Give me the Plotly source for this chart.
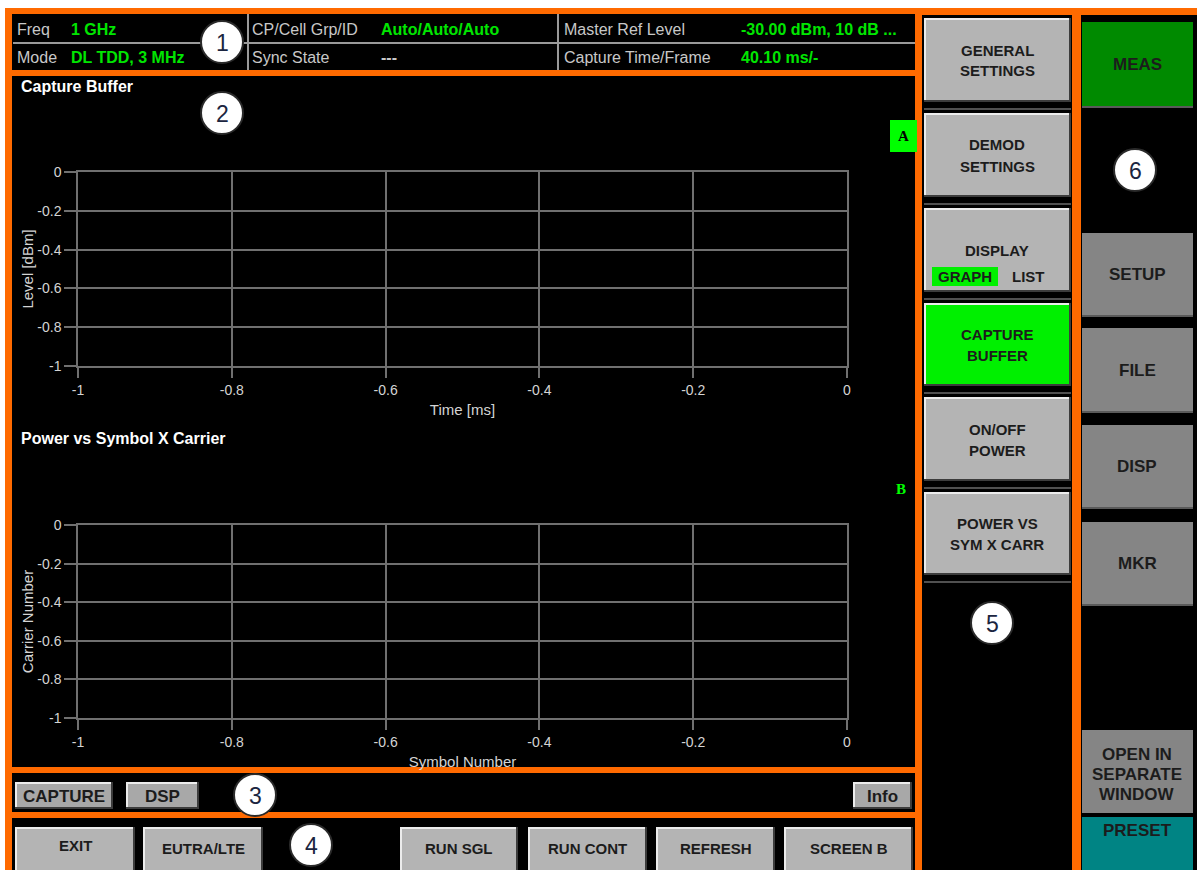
import plotly.graph_objects as go

W, H = 1197, 870

# ---------------- data ----------------
x_tick_values = [-1, -0.8, -0.6, -0.4, -0.2, 0]
x_tick_labels = ["-1", "-0.8", "-0.6", "-0.4", "-0.2", "0"]
y_tick_values = [0, -0.2, -0.4, -0.6, -0.8, -1]
y_tick_labels = ["0", "-0.2", "-0.4", "-0.6", "-0.8", "-1"]
capture_time = []      # Capture Buffer trace: empty (no capture yet)
capture_level = []
pvsc_symbol = []       # Power vs Symbol X Carrier: empty
pvsc_carrier = []

chart_titles = ["Capture Buffer", "Power vs Symbol X Carrier"]
x_titles = ["Time [ms]", "Symbol Number"]
y_titles = ["Level [dBm]", "Carrier Number"]

header_row1 = [("Freq", "1 GHz"), ("CP/Cell Grp/ID", "Auto/Auto/Auto"), ("Master Ref Level", "-30.00 dBm, 10 dB ...")]
header_row2 = [("Mode", "DL TDD, 3 MHz"), ("Sync State", "---"), ("Capture Time/Frame", "40.10 ms/-")]

side_buttons = [["GENERAL", "SETTINGS"], ["DEMOD", "SETTINGS"], ["DISPLAY"], ["CAPTURE", "BUFFER"],
                ["ON/OFF", "POWER"], ["POWER VS", "SYM X CARR"]]
hard_keys = ["MEAS", "SETUP", "FILE", "DISP", "MKR"]
status_buttons = ["CAPTURE", "DSP", "Info"]
bottom_buttons = ["EXIT", "EUTRA/LTE", "RUN SGL", "RUN CONT", "REFRESH", "SCREEN B"]

# ---------------- style ----------------
ORANGE = "#ff6a00"
GRID = "#707070"
TICKC = "#d4d4d4"
GREEN = "#00e600"
BTN = "#b4b4b4"
HK = "#858585"
TXT = "#1c1c1c"
FONT = "Liberation Sans, Arial, sans-serif"

shapes = []
annotations = []


def px(x):
    return x / W


def py(y):
    return 1 - y / H


def rect(x0, y0, x1, y1, color, layer="below"):
    shapes.append(dict(type="rect", xref="paper", yref="paper", x0=px(x0), x1=px(x1),
                       y0=py(y1), y1=py(y0), fillcolor=color, line=dict(width=0), layer=layer))


def line(x0, y0, x1, y1, color, width=2):
    shapes.append(dict(type="line", xref="paper", yref="paper", x0=px(x0), x1=px(x1),
                       y0=py(y0), y1=py(y1), line=dict(color=color, width=width), layer="below"))


def text(x, y, s, size, color, bold=False, anchor="center", family=FONT):
    annotations.append(dict(xref="paper", yref="paper", x=px(x), y=py(y),
                            text=("<b>%s</b>" % s) if bold else s, showarrow=False,
                            xanchor=anchor, yanchor="middle", borderpad=0,
                            font=dict(size=size, color=color, family=family)))


def button(x0, y0, x1, y1, face, light="#ececec", dark="#3c3c3c"):
    rect(x0, y0, x1, y1, dark)
    rect(x0, y0, x1 - 2, y1 - 2, light)
    rect(x0 + 2, y0 + 2, x1 - 2, y1 - 2, face)


def badge(cx, cy, label):
    shapes.append(dict(type="circle", xref="paper", yref="paper", x0=px(cx - 21), x1=px(cx + 21),
                       y0=py(cy + 21), y1=py(cy - 21), fillcolor="#ffffff",
                       line=dict(color="#2a2a2a", width=2), layer="above"))
    text(cx, cy + 1, label, 23, "#1b2540")


# ---------------- frame & panels ----------------
rect(5, 8, 1197, 870, ORANGE)
rect(12, 14, 915, 70, "#000000")     # header (1)
rect(12, 76, 915, 767, "#000000")    # graphs (2)
rect(12, 773, 915, 812, "#000000")   # status bar (3)
rect(12, 818, 915, 870, "#000000")   # soft keys (4)
rect(922, 15, 1072, 870, "#000000")  # side menu (5)
rect(1081, 15, 1197, 870, "#000000")  # hard keys (6)

# header grid
line(13, 43, 915, 43, "#9a9a9a", 2)
line(248, 14, 248, 70, "#9a9a9a", 2)
line(558, 14, 558, 70, "#9a9a9a", 2)
label_x = [16, 251, 563]
value_x = [70, 380, 740]
for i, (lab, val) in enumerate(header_row1):
    text(label_x[i], 30, lab, 16, "#c8c8c8", anchor="left")
    text(value_x[i], 30, val, 16, GREEN, bold=True, anchor="left")
for i, (lab, val) in enumerate(header_row2):
    text(label_x[i], 58, lab, 16, "#c8c8c8", anchor="left")
    text(value_x[i], 58, val, 16, GREEN if val != "---" else "#c8c8c8", bold=True, anchor="left")

# graph titles and window markers
text(20, 86, chart_titles[0], 16, "#ffffff", bold=True, anchor="left")
text(20, 438, chart_titles[1], 16, "#ffffff", bold=True, anchor="left")
rect(890, 120, 917, 152, "#00ff00")
text(903, 136, "A", 15, "#000000", bold=True, family="Liberation Serif, serif")
text(901, 489, "B", 15, "#00ff00", bold=True, family="Liberation Serif, serif")

# side menu buttons (5)
side_pos = [(18, 102), (113, 197), (208, 292), (303, 386), (397, 481), (492, 575)]
for (y0, y1), lines in zip(side_pos, side_buttons):
    face = "#00f000" if lines[0] == "CAPTURE" else BTN
    button(924, y0, 1071, y1, face)
    line(924, y1 + 7, 1071, y1 + 7, "#505050", 2)
    if lines[0] == "DISPLAY":
        text(997, 251, lines[0], 15, TXT, bold=True)
        rect(932, 267, 998, 286, "#00f000")
        text(965, 277, "GRAPH", 15, TXT, bold=True)
        text(1028, 277, "LIST", 15, TXT, bold=True)
    else:
        cy = (y0 + y1) / 2
        text(997, cy - 10, lines[0], 15, TXT, bold=True)
        text(997, cy + 11, lines[1], 15, TXT, bold=True)

# hard keys (6)
hk_pos = [(22, 107), (233, 316), (328, 412), (425, 508), (522, 605)]
for (y0, y1), lab in zip(hk_pos, hard_keys):
    face = "#008a00" if lab == "MEAS" else HK
    rect(1082, y0, 1193, y1, face)
    line(1082, y1, 1193, y1, "#5a5a5a", 2)
    text(1137, (y0 + y1) / 2, lab, 17, TXT, bold=True)
rect(1082, 730, 1193, 813, HK)
text(1137, 754, "OPEN IN", 17, TXT, bold=True)
text(1137, 774, "SEPARATE", 17, TXT, bold=True)
text(1137, 794, "WINDOW", 17, TXT, bold=True)
rect(1082, 817, 1193, 870, "#008484")
text(1137, 830, "PRESET", 17, TXT, bold=True)

# status bar (3)
status_pos = [(15, 113), (126, 199), (853, 912)]
for (x0, x1), lab in zip(status_pos, status_buttons):
    button(x0, 782, x1, 809, "#a8a8a8")
    text((x0 + x1) / 2, 796, lab, 17, TXT, bold=True)

# soft keys (4)
bottom_pos = [(15, 135), (143, 263), (400, 518), (528, 647), (656, 775), (784, 913)]
for i, ((x0, x1), lab) in enumerate(zip(bottom_pos, bottom_buttons)):
    button(x0, 827, x1, 872, BTN)
    text((x0 + x1) / 2, 845 if i == 0 else 848, lab, 15, TXT, bold=True)

# number badges
badge(222, 42, "1")
badge(222, 113, "2")
badge(255, 795, "3")
badge(311, 845, "4")
badge(992, 623, "5")
badge(1135, 170, "6")

# ---------------- charts ----------------
fig = go.Figure()
fig.add_trace(go.Scatter(x=capture_time, y=capture_level, mode="lines",
                         line=dict(color="#ffff00"), xaxis="x", yaxis="y", showlegend=False))
fig.add_trace(go.Scatter(x=pvsc_symbol, y=pvsc_carrier, mode="markers",
                         xaxis="x2", yaxis="y2", showlegend=False))


def xaxis(title, anchor):
    return dict(domain=[px(78), px(847)], range=[-1, 0], anchor=anchor,
                tickmode="array", tickvals=x_tick_values, ticktext=x_tick_labels,
                showgrid=True, gridcolor=GRID, gridwidth=1.5, zeroline=False,
                showline=True, linecolor=GRID, linewidth=1.5, mirror=True,
                ticks="outside", ticklen=10, tickcolor=GRID, tickwidth=1.5,
                tickfont=dict(size=14, color=TICKC, family=FONT),
                title=dict(text=title, font=dict(size=15, color=TICKC, family=FONT), standoff=8),
                automargin=False, fixedrange=True)


def yaxis(title, anchor, top, bottom):
    return dict(domain=[py(bottom), py(top)], range=[-1, 0], anchor=anchor,
                tickmode="array", tickvals=y_tick_values, ticktext=y_tick_labels,
                showgrid=True, gridcolor=GRID, gridwidth=1.5, zeroline=False,
                showline=True, linecolor=GRID, linewidth=1.5, mirror=True,
                ticks="outside", ticklen=12, tickcolor=GRID, tickwidth=1.5,
                tickfont=dict(size=14, color=TICKC, family=FONT),
                title=dict(text=title, font=dict(size=15, color=TICKC, family=FONT), standoff=0),
                automargin=False, fixedrange=True)


fig.update_layout(
    width=W, height=H, autosize=False,
    margin=dict(l=0, r=0, t=0, b=0),
    paper_bgcolor="#ffffff", plot_bgcolor="rgba(0,0,0,0)",
    xaxis=xaxis(x_titles[0], "y"),
    yaxis=yaxis(y_titles[0], "x", 172, 366),
    xaxis2=xaxis(x_titles[1], "y2"),
    yaxis2=yaxis(y_titles[1], "x2", 525, 718),
    shapes=shapes, annotations=annotations,
    font=dict(family=FONT),
    showlegend=False,
)

fig.write_html("out.html", config={"displayModeBar": False},
               post_script="document.body.style.margin='0';document.body.style.overflow='hidden';")
